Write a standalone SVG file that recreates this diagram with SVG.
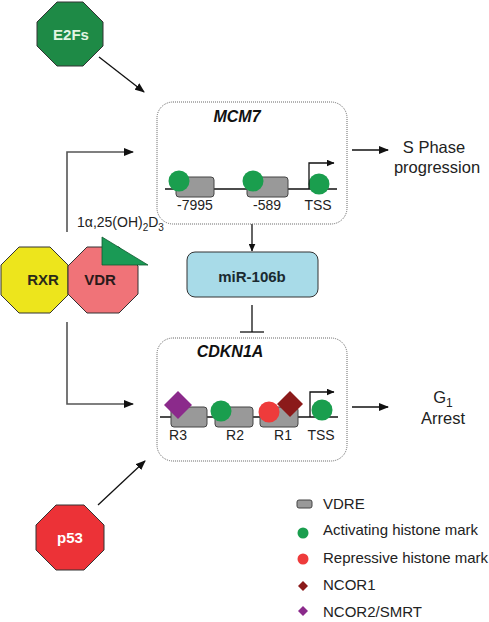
<svg xmlns="http://www.w3.org/2000/svg" width="489" height="622" viewBox="0 0 489 622">
<defs>
<marker id="ah" markerWidth="10" markerHeight="8" refX="9" refY="4" orient="auto" markerUnits="userSpaceOnUse">
<path d="M0,0 L10,4 L0,8 Z" fill="#111"/>
</marker>
<marker id="ahs" markerWidth="8" markerHeight="7" refX="7.5" refY="3.5" orient="auto" markerUnits="userSpaceOnUse">
<path d="M0,0 L8,3.5 L0,7 Z" fill="#111"/>
</marker>
</defs>
<style>
text{font-family:"Liberation Sans",Arial,sans-serif;}
.oct{stroke:#333;stroke-width:1;}
.lbl{font-size:15px;font-weight:bold;text-anchor:middle;}
.gene{font-size:16px;font-weight:bold;font-style:italic;text-anchor:middle;fill:#111;}
.pos{font-size:14px;text-anchor:middle;fill:#222;}
.out{font-size:16.5px;text-anchor:middle;fill:#222;}
.leg{font-size:15px;fill:#222;}
.dot{fill:none;stroke:#666;stroke-width:1;stroke-dasharray:1 1;}
.ln{stroke:#111;stroke-width:1.3;fill:none;}
.gl{stroke:#555;stroke-width:1.6;fill:none;}
.vdre{fill:#999;stroke:#444;stroke-width:1;}
.act{fill:#1a9e4e;}
.rep{fill:#ee3b3b;}
.ncor1{fill:#8b1a1a;}
.ncor2{fill:#8b2a8b;}
.dna{stroke:#111;stroke-width:1.6;}
</style>

<g id="connectors">
<line class="ln" x1="99" y1="57" x2="144" y2="92" marker-end="url(#ah)"/>
<polyline class="gl" points="67,232 67,152 133,152" marker-end="url(#ah)"/>
<polyline class="gl" points="67,322 67,404 133,404" marker-end="url(#ah)"/>
<line class="ln" x1="98" y1="505" x2="145" y2="461" marker-end="url(#ah)"/>
<line class="ln" x1="352" y1="150" x2="388" y2="150" marker-end="url(#ah)"/>
<line class="ln" x1="352" y1="407" x2="388" y2="407" marker-end="url(#ah)"/>
<line class="ln" x1="252" y1="224" x2="252" y2="251" marker-end="url(#ahs)"/>
<line class="ln" x1="252" y1="305" x2="252" y2="332" stroke-width="1.6"/>
<line class="ln" x1="240" y1="332" x2="264" y2="332" stroke-width="2"/>
</g>

<g id="E2Fs">
<polygon class="oct" fill="#1e8a46" points="57,2 83,2 103,22 103,46 83,66 57,66 37,46 37,22"/>
<text class="lbl" x="71" y="40" font-size="16" fill="#e2f4e2">E2Fs</text>
</g>

<g id="MCM7">
<rect class="dot" x="157" y="102" width="190" height="122" rx="16"/>
<text class="gene" x="237" y="122">MCM7</text>
<line class="dna" x1="165" y1="189" x2="337" y2="189"/>
<rect class="vdre" x="176" y="177" width="38" height="20" rx="3"/>
<rect class="vdre" x="247" y="177" width="41" height="20" rx="3"/>
<circle class="act" cx="179" cy="181" r="10.5"/>
<circle class="act" cx="253" cy="181" r="10.5"/>
<circle class="act" cx="319" cy="184" r="10.5"/>
<polyline class="ln" points="309,189 309,163 334,163" stroke-width="1.5" marker-end="url(#ahs)"/>
<text class="pos" x="195" y="210">-7995</text>
<text class="pos" x="267" y="210">-589</text>
<text class="pos" x="318" y="210">TSS</text>
</g>

<g id="SPhase">
<text class="out" x="434" y="153">S Phase</text>
<text class="out" x="437" y="173">progression</text>
</g>

<g id="D3">
<text x="77" y="227" font-size="14" fill="#222">1α,25(OH)<tspan font-size="10" dy="4">2</tspan><tspan dy="-4">D</tspan><tspan font-size="10" dy="4">3</tspan></text>
</g>

<g id="RXR">
<polygon class="oct" fill="#ede51c" points="19,247 50,247 68,265 68,295 50,313 19,313 1,295 1,265"/>
<text class="lbl" x="43" y="285" fill="#2a2a1a">RXR</text>
</g>

<g id="VDR">
<polygon class="oct" fill="#f07378" points="87,247 119,247 138,266 138,294 119,313 87,313 68,294 68,266"/>
<text class="lbl" x="100" y="285" fill="#2a1a1a">VDR</text>
<polygon fill="#1a9a55" stroke="#0f5a30" stroke-width="0.8" points="102,237 102,265 148,265"/>
</g>

<g id="miR106b">
<rect x="187" y="252" width="131" height="45" rx="8" fill="#a8dbe8" stroke="#333" stroke-width="1"/>
<text class="lbl" x="252" y="282" fill="#1a2a30">miR-106b</text>
</g>

<g id="CDKN1A">
<rect class="dot" x="157" y="338" width="190" height="123" rx="16"/>
<text class="gene" x="230" y="357">CDKN1A</text>
<line class="dna" x1="160" y1="417" x2="338" y2="417"/>
<rect class="vdre" x="171" y="407" width="36" height="20" rx="3"/>
<rect class="vdre" x="215" y="407" width="38" height="20" rx="3"/>
<rect class="vdre" x="260" y="407" width="38" height="20" rx="3"/>
<polygon class="ncor2" points="178,391 192,405 178,419 164,405"/>
<circle class="act" cx="221" cy="411" r="10.5"/>
<circle class="rep" cx="269" cy="412" r="10.5"/>
<polygon class="ncor1" points="290,391 303,404 290,417 277,404"/>
<circle class="act" cx="322" cy="410" r="10.5"/>
<polyline class="ln" points="310,417 310,392 334,392" stroke-width="1.5" marker-end="url(#ahs)"/>
<text class="pos" x="178" y="440">R3</text>
<text class="pos" x="235" y="440">R2</text>
<text class="pos" x="283" y="440">R1</text>
<text class="pos" x="321" y="440">TSS</text>
</g>

<g id="G1Arrest">
<text class="out" x="443" y="403">G<tspan font-size="12" dy="4">1</tspan></text>
<text class="out" x="443" y="424">Arrest</text>
</g>

<g id="p53">
<polygon class="oct" fill="#ec3237" points="56,505 84,505 104,525 104,550 84,570 56,570 36,550 36,525"/>
<text class="lbl" x="70" y="543" fill="#fff">p53</text>
</g>

<g id="legend">
<rect class="vdre" x="297" y="500" width="15" height="8" rx="2"/>
<text class="leg" x="323" y="509">VDRE</text>
<circle class="act" cx="303" cy="533" r="5.5"/>
<text class="leg" x="323" y="535">Activating histone mark</text>
<circle class="rep" cx="303" cy="559" r="5.5"/>
<text class="leg" x="323" y="563">Repressive histone mark</text>
<polygon class="ncor1" points="303,581 308,586 303,591 298,586"/>
<text class="leg" x="323" y="590">NCOR1</text>
<polygon class="ncor2" points="303,606 308,611 303,616 298,611"/>
<text class="leg" x="323" y="617">NCOR2/SMRT</text>
</g>
</svg>
